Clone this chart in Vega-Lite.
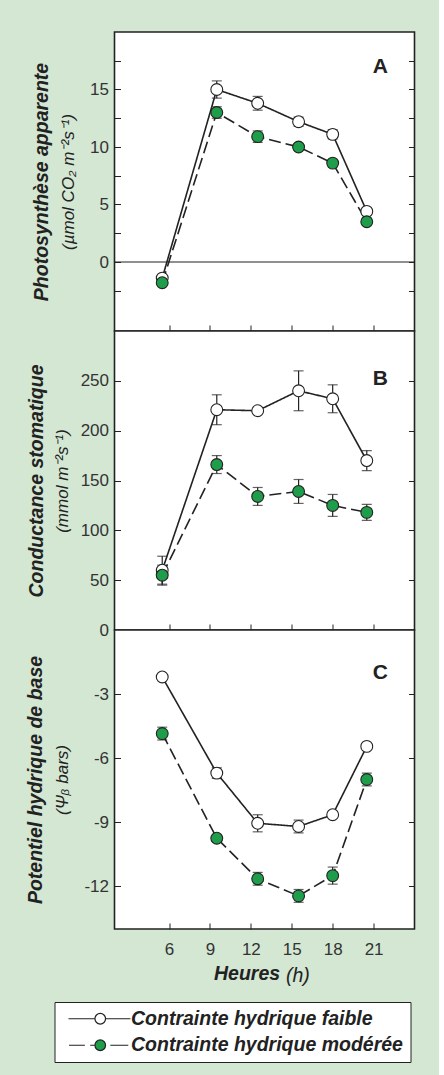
{
  "$schema": "https://vega.github.io/schema/vega-lite/v6.json",
  "background": "#d3e7d3",
  "padding": {"left": 24.5, "top": 31, "right": 22, "bottom": 15},
  "spacing": 0,
  "bounds": "flush",
  "config": {
    "font": "Liberation Sans",
    "view": {"fill": "white", "stroke": "#222", "strokeWidth": 1.6},
    "axis": {"grid": false, "domain": false, "tickColor": "#222", "tickWidth": 1, "labelFont": "Liberation Sans", "labelColor": "#333", "labelFontSize": 17, "titleFont": "Liberation Sans", "titleColor": "#222"}
  },
  "datasets": {
    "A": [
      {"h": 5.5, "v": -1.4, "e": 0.2, "s": "Contrainte hydrique faible"},
      {"h": 9.5, "v": 15.0, "e": 0.75, "s": "Contrainte hydrique faible"},
      {"h": 12.5, "v": 13.8, "e": 0.6, "s": "Contrainte hydrique faible"},
      {"h": 15.5, "v": 12.2, "e": 0.4, "s": "Contrainte hydrique faible"},
      {"h": 18, "v": 11.1, "e": 0.4, "s": "Contrainte hydrique faible"},
      {"h": 20.5, "v": 4.4, "e": 0.3, "s": "Contrainte hydrique faible"},
      {"h": 5.5, "v": -1.8, "e": 0.2, "s": "Contrainte hydrique modérée"},
      {"h": 9.5, "v": 13.0, "e": 0.5, "s": "Contrainte hydrique modérée"},
      {"h": 12.5, "v": 10.9, "e": 0.5, "s": "Contrainte hydrique modérée"},
      {"h": 15.5, "v": 10.0, "e": 0.3, "s": "Contrainte hydrique modérée"},
      {"h": 18, "v": 8.6, "e": 0.3, "s": "Contrainte hydrique modérée"},
      {"h": 20.5, "v": 3.5, "e": 0.3, "s": "Contrainte hydrique modérée"}
    ],
    "B": [
      {"h": 5.5, "v": 60, "e": 14, "s": "Contrainte hydrique faible"},
      {"h": 9.5, "v": 221, "e": 15, "s": "Contrainte hydrique faible"},
      {"h": 12.5, "v": 220, "e": 3, "s": "Contrainte hydrique faible"},
      {"h": 15.5, "v": 240, "e": 20, "s": "Contrainte hydrique faible"},
      {"h": 18, "v": 232, "e": 14, "s": "Contrainte hydrique faible"},
      {"h": 20.5, "v": 170, "e": 10, "s": "Contrainte hydrique faible"},
      {"h": 5.5, "v": 55, "e": 10, "s": "Contrainte hydrique modérée"},
      {"h": 9.5, "v": 166, "e": 9, "s": "Contrainte hydrique modérée"},
      {"h": 12.5, "v": 134, "e": 9, "s": "Contrainte hydrique modérée"},
      {"h": 15.5, "v": 139, "e": 12, "s": "Contrainte hydrique modérée"},
      {"h": 18, "v": 125, "e": 11, "s": "Contrainte hydrique modérée"},
      {"h": 20.5, "v": 118, "e": 8, "s": "Contrainte hydrique modérée"}
    ],
    "C": [
      {"h": 5.5, "v": -2.2, "e": 0.1, "s": "Contrainte hydrique faible"},
      {"h": 9.5, "v": -6.7, "e": 0.25, "s": "Contrainte hydrique faible"},
      {"h": 12.5, "v": -9.05, "e": 0.4, "s": "Contrainte hydrique faible"},
      {"h": 15.5, "v": -9.2, "e": 0.3, "s": "Contrainte hydrique faible"},
      {"h": 18, "v": -8.65, "e": 0.1, "s": "Contrainte hydrique faible"},
      {"h": 20.5, "v": -5.45, "e": 0.1, "s": "Contrainte hydrique faible"},
      {"h": 5.5, "v": -4.85, "e": 0.3, "s": "Contrainte hydrique modérée"},
      {"h": 9.5, "v": -9.75, "e": 0.15, "s": "Contrainte hydrique modérée"},
      {"h": 12.5, "v": -11.65, "e": 0.3, "s": "Contrainte hydrique modérée"},
      {"h": 15.5, "v": -12.45, "e": 0.3, "s": "Contrainte hydrique modérée"},
      {"h": 18, "v": -11.5, "e": 0.4, "s": "Contrainte hydrique modérée"},
      {"h": 20.5, "v": -7.0, "e": 0.3, "s": "Contrainte hydrique modérée"}
    ]
  },
  "vconcat": [
    {
      "width": 300, "height": 299,
      "data": {"name": "A"},
      "resolve": {"axis": {"x": "independent", "y": "independent"}},
      "layer": [
        {
          "data": {"values": [{}]},
          "mark": {"type": "rule", "color": "#222", "strokeWidth": 1.2},
          "encoding": {"y": {"datum": 0, "type": "quantitative", "scale": {"domain": [-5, 20]}, "axis": null}}
        },
        {
          "mark": {"type": "errorbar", "color": "#222", "thickness": 1.2, "ticks": {"size": 10, "thickness": 1.2}},
          "encoding": {
            "x": {"field": "h", "type": "quantitative", "scale": {"domain": [3, 24]}, "axis": null},
            "y": {"field": "v", "type": "quantitative", "scale": {"domain": [-5, 20]}, "axis": null},
            "yError": {"field": "e"}
          }
        },
        {
          "mark": {"type": "line", "color": "#222", "strokeWidth": 1.6},
          "encoding": {
            "x": {"field": "h", "type": "quantitative", "scale": {"domain": [3, 24]}, "axis": {"orient": "bottom", "values": [6, 9, 12, 15, 18, 21], "tickSize": -6, "labels": false, "title": null}},
            "y": {"field": "v", "type": "quantitative", "scale": {"domain": [-5, 20]}, "axis": {"orient": "left", "values": [-2.5, 0, 2.5, 5, 7.5, 10, 12.5, 15, 17.5], "labelExpr": "datum.value % 5 === 0 ? '' + datum.value : ''", "tickSize": -6, "labelPadding": 12, "title": "Photosynthèse apparente", "titleFontSize": 19.5, "titleFontWeight": "bold", "titleFontStyle": "italic", "titlePadding": 38}},
            "strokeDash": {"field": "s", "type": "nominal", "scale": {"domain": ["Contrainte hydrique modérée", "Contrainte hydrique faible"], "range": [[12, 5], [1, 0]]}, "legend": null}
          }
        },
        {
          "mark": {"type": "point", "shape": "circle", "filled": true, "size": 140, "stroke": "#222", "strokeWidth": 1.1, "opacity": 1},
          "encoding": {
            "x": {"field": "h", "type": "quantitative", "scale": {"domain": [3, 24]}, "axis": null},
            "y": {"field": "v", "type": "quantitative", "scale": {"domain": [-5, 20]}, "axis": {"orient": "right", "values": [-2.5, 0, 2.5, 5, 7.5, 10, 12.5, 15, 17.5], "labels": false, "tickSize": -6, "title": null}},
            "fill": {"field": "s", "type": "nominal", "scale": {"domain": ["Contrainte hydrique faible", "Contrainte hydrique modérée"], "range": ["#ffffff", "#1e9e4a"]}}
          }
        },
        {
          "data": {"values": [{"t": "A"}]},
          "mark": {"type": "text", "fontSize": 21, "fontWeight": "bold", "color": "#222", "font": "Liberation Sans"},
          "encoding": {
            "text": {"field": "t"},
            "x": {"datum": 21.5, "type": "quantitative", "axis": null},
            "y": {"datum": 17, "type": "quantitative", "axis": {"orient": "left", "labels": false, "ticks": false, "title": "(µmol CO₂ m⁻²s⁻¹)", "titleFontSize": 17, "titleFontWeight": "normal", "titleFontStyle": "italic", "titlePadding": 37}}
          }
        }
      ]
    },
    {
      "width": 300, "height": 299,
      "data": {"name": "B"},
      "resolve": {"axis": {"x": "independent", "y": "independent"}},
      "layer": [
        {
          "mark": {"type": "errorbar", "color": "#222", "thickness": 1.2, "ticks": {"size": 10, "thickness": 1.2}},
          "encoding": {
            "x": {"field": "h", "type": "quantitative", "scale": {"domain": [3, 24]}, "axis": null},
            "y": {"field": "v", "type": "quantitative", "scale": {"domain": [0, 300]}, "axis": null},
            "yError": {"field": "e"}
          }
        },
        {
          "mark": {"type": "line", "color": "#222", "strokeWidth": 1.6},
          "encoding": {
            "x": {"field": "h", "type": "quantitative", "scale": {"domain": [3, 24]}, "axis": {"orient": "bottom", "values": [6, 9, 12, 15, 18, 21], "tickSize": -6, "labels": false, "title": null}},
            "y": {"field": "v", "type": "quantitative", "scale": {"domain": [0, 300]}, "axis": {"orient": "left", "values": [0, 50, 100, 150, 200, 250], "labelExpr": "'' + datum.value", "tickSize": -6, "labelPadding": 12, "title": "Conductance stomatique", "titleFontSize": 19.5, "titleFontWeight": "bold", "titleFontStyle": "italic", "titlePadding": 34}},
            "strokeDash": {"field": "s", "type": "nominal", "scale": {"domain": ["Contrainte hydrique modérée", "Contrainte hydrique faible"], "range": [[12, 5], [1, 0]]}, "legend": null}
          }
        },
        {
          "mark": {"type": "point", "shape": "circle", "filled": true, "size": 140, "stroke": "#222", "strokeWidth": 1.1, "opacity": 1},
          "encoding": {
            "x": {"field": "h", "type": "quantitative", "scale": {"domain": [3, 24]}, "axis": null},
            "y": {"field": "v", "type": "quantitative", "scale": {"domain": [0, 300]}, "axis": {"orient": "right", "values": [50, 100, 150, 200, 250], "labels": false, "tickSize": -6, "title": null}},
            "fill": {"field": "s", "type": "nominal", "scale": {"domain": ["Contrainte hydrique faible", "Contrainte hydrique modérée"], "range": ["#ffffff", "#1e9e4a"]}}
          }
        },
        {
          "data": {"values": [{"t": "B"}]},
          "mark": {"type": "text", "fontSize": 21, "fontWeight": "bold", "color": "#222", "font": "Liberation Sans"},
          "encoding": {
            "text": {"field": "t"},
            "x": {"datum": 21.5, "type": "quantitative", "axis": null},
            "y": {"datum": 252, "type": "quantitative", "axis": {"orient": "left", "labels": false, "ticks": false, "title": "(mmol m⁻²s⁻¹)", "titleFontSize": 17, "titleFontWeight": "normal", "titleFontStyle": "italic", "titlePadding": 43}}
          }
        }
      ]
    },
    {
      "width": 300, "height": 299,
      "data": {"name": "C"},
      "resolve": {"axis": {"x": "independent", "y": "independent"}},
      "layer": [
        {
          "mark": {"type": "errorbar", "color": "#222", "thickness": 1.2, "ticks": {"size": 10, "thickness": 1.2}},
          "encoding": {
            "x": {"field": "h", "type": "quantitative", "scale": {"domain": [3, 24]}, "axis": null},
            "y": {"field": "v", "type": "quantitative", "scale": {"domain": [-14, 0]}, "axis": null},
            "yError": {"field": "e"}
          }
        },
        {
          "mark": {"type": "line", "color": "#222", "strokeWidth": 1.6},
          "encoding": {
            "x": {"field": "h", "type": "quantitative", "scale": {"domain": [3, 24]}, "axis": {"orient": "bottom", "values": [6, 9, 12, 15, 18, 21], "tickSize": -6, "labelPadding": 18, "title": "Heures", "titleFontSize": 19.5, "titleFontWeight": "bold", "titleFontStyle": "italic", "titlePadding": 7, "titleX": 99, "titleAlign": "left"}},
            "y": {"field": "v", "type": "quantitative", "scale": {"domain": [-14, 0]}, "axis": {"orient": "left", "values": [-3, -6, -9, -12], "labelExpr": "'' + datum.value", "tickSize": -6, "labelPadding": 12, "title": "Potentiel hydrique de base", "titleFontSize": 19.5, "titleFontWeight": "bold", "titleFontStyle": "italic", "titlePadding": 38}},
            "strokeDash": {"field": "s", "type": "nominal", "scale": {"domain": ["Contrainte hydrique modérée", "Contrainte hydrique faible"], "range": [[12, 5], [1, 0]]}, "legend": null}
          }
        },
        {
          "mark": {"type": "point", "shape": "circle", "filled": true, "size": 140, "stroke": "#222", "strokeWidth": 1.1, "opacity": 1},
          "encoding": {
            "x": {"field": "h", "type": "quantitative", "scale": {"domain": [3, 24]}, "axis": null},
            "y": {"field": "v", "type": "quantitative", "scale": {"domain": [-14, 0]}, "axis": {"orient": "right", "values": [-3, -6, -9, -12], "labels": false, "tickSize": -6, "title": null}},
            "fill": {
              "field": "s", "type": "nominal",
              "scale": {"domain": ["Contrainte hydrique faible", "Contrainte hydrique modérée"], "range": ["#ffffff", "#1e9e4a"]},
              "legend": {
                "title": null, "orient": "none", "legendX": -60, "legendY": 970, "direction": "vertical",
                "fillColor": "white", "strokeColor": "#222", "padding": 7, "cornerRadius": 0,
                "labelFont": "Liberation Sans", "labelFontSize": 19.5, "labelFontStyle": "italic", "labelFontWeight": "bold", "labelColor": "#222", "labelLimit": 400,
                "symbolSize": 112, "symbolOffset": 29, "labelOffset": 21, "rowPadding": 5.5,
                "symbolStrokeColor": "#222", "symbolStrokeWidth": 1.2,
                "symbolType": {"expr": "datum.value === 'Contrainte hydrique faible' ? 'M-6,0H-1M1,0H5.7M-1,0A1,1,0,1,0,1,0A1,1,0,1,0,-1,0' : 'M-5.9,0H-2.9M-1.9,0H-1M1.9,0H5.3M-1,0A1,1,0,1,0,1,0A1,1,0,1,0,-1,0'"},
                "encode": {"symbols": {
                  "shape": {"value": {"expr": "datum.value === 'Contrainte hydrique faible' ? 'M-6,0H-1M1,0H5.7M-1,0A1,1,0,1,0,1,0A1,1,0,1,0,-1,0' : 'M-5.9,0H-2.9M-1.9,0H-1M1.9,0H5.3M-1,0A1,1,0,1,0,1,0A1,1,0,1,0,-1,0'"}},
                  "stroke": {"value": "#222"},
                  "strokeWidth": {"value": 1.2}
                }}
              }
            }
          }
        },
        {
          "data": {"values": [{"t": "C"}]},
          "mark": {"type": "text", "fontSize": 21, "fontWeight": "bold", "color": "#222", "font": "Liberation Sans"},
          "encoding": {
            "text": {"field": "t"},
            "x": {"datum": 21.5, "type": "quantitative", "axis": {"orient": "bottom", "labels": false, "ticks": false, "title": "(h)", "titleFontSize": 19.5, "titleFontWeight": "normal", "titleFontStyle": "italic", "titlePadding": 37, "titleX": 171, "titleAlign": "left"}},
            "y": {"datum": -2, "type": "quantitative", "axis": {"orient": "left", "labels": false, "ticks": false, "title": "(Ψᵦ bars)", "titleFontSize": 17, "titleFontWeight": "normal", "titleFontStyle": "italic", "titlePadding": 43}}
          }
        }
      ]
    }
  ]
}
